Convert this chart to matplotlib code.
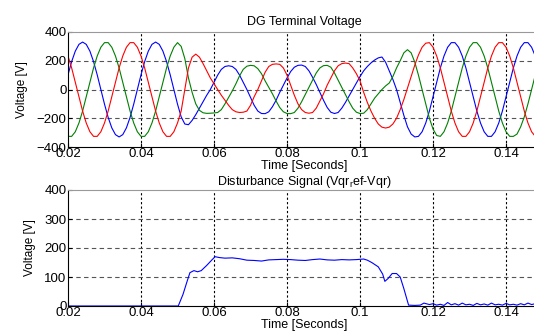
import numpy as np
import matplotlib
matplotlib.use("Agg")
from matplotlib import pyplot as plt

plt.rcParams["font.family"] = ["Liberation Sans", "DejaVu Sans"]
plt.rcParams["mathtext.fontset"] = "custom"
plt.rcParams["mathtext.rm"] = "Liberation Sans"

# sample times of the terminal voltage trace, seconds (1 ms steps)
t_volt = np.arange(20, 149) / 1000.0

v_blue = [
    102, 194, 267, 314, 330, 314, 267, 194, 102, 0,
    -102, -194, -267, -314, -330, -314, -267, -194, -102, 0,
    102, 194, 267, 314, 330, 314, 267, 194, 102, 0,
    -102, -190, -240, -245, -215, -175, -130, -85, -40, 0,
    50, 100, 140, 160, 165, 160, 140, 100, 50, 0,
    -55, -110, -150, -167, -168, -155, -120, -75, -20, 30,
    80, 125, 155, 168, 170, 160, 130, 85, 35, -20,
    -75, -125, -158, -167, -160, -130, -90, -45, 0, 45,
    90, 130, 160, 185, 205, 220, 226, 190, 130, 70,
    0, -90, -180, -260, -310, -330, -326, -294, -233, -150,
    -51, 51, 150, 233, 294, 326, 326, 294, 233, 150,
    51, -51, -150, -233, -294, -326, -326, -294, -233, -150,
    -51, 51, 150, 233, 294, 326, 326, 294, 233,
]
v_green = [
    -326, -326, -294, -233, -150, -51, 51, 150, 233, 294,
    326, 326, 294, 233, 150, 51, -51, -150, -233, -294,
    -326, -326, -294, -233, -150, -51, 51, 150, 233, 294,
    326, 300, 215, 80, -20, -100, -145, -162, -166, -165,
    -163, -160, -140, -100, -55, -10, 40, 95, 140, 162,
    168, 165, 145, 110, 60, 15, -30, -80, -125, -155,
    -167, -168, -160, -130, -85, -35, 15, 65, 115, 150,
    166, 168, 155, 115, 65, 15, -35, -85, -130, -158,
    -167, -165, -140, -100, -60, -30, 0, 25, 45, 90,
    150, 200, 255, 277, 255, 190, 100, 0, -100, -200,
    -275, -320, -326, -294, -233, -150, -51, 51, 150, 233,
    294, 326, 326, 294, 233, 150, 51, -51, -150, -233,
    -294, -326, -326, -310, -260, -190, -100, 0, 100,
]
v_red = [
    233, 150, 51, -51, -150, -233, -294, -326, -326, -294,
    -233, -150, -51, 51, 150, 233, 294, 326, 326, 294,
    233, 150, 51, -51, -150, -233, -294, -326, -326, -294,
    -233, -150, 0, 150, 225, 246, 225, 180, 130, 80,
    40, 0, -40, -75, -110, -140, -155, -160, -158, -150,
    -110, -50, 0, 60, 120, 160, 175, 178, 175, 150,
    100, 30, -40, -100, -140, -160, -165, -160, -130, -80,
    -30, 30, 80, 130, 165, 180, 184, 180, 150, 110,
    60, -20, -90, -150, -200, -240, -262, -268, -262, -240,
    -200, -140, -70, 10, 90, 170, 240, 294, 322, 326,
    294, 233, 150, 51, -51, -150, -233, -294, -326, -326,
    -294, -233, -150, -51, 51, 150, 233, 294, 326, 326,
    294, 233, 150, 51, -51, -150, -233, -294, -326,
]

# disturbance signal (Vqr_ref - Vqr)
t_dist = [
    0.020, 0.0502, 0.0515, 0.0525, 0.0534, 0.0545, 0.0555, 0.0565, 0.0580, 0.0595,
    0.0603, 0.0615, 0.063, 0.065, 0.067, 0.069, 0.071, 0.073, 0.075, 0.077,
    0.079, 0.081, 0.083, 0.085, 0.087, 0.089, 0.091, 0.093, 0.095, 0.097,
    0.099, 0.101, 0.102, 0.1032, 0.105, 0.1062, 0.1068, 0.1077, 0.1088, 0.1100,
    0.1110, 0.1120, 0.1133, 0.1150, 0.1165, 0.1175, 0.119, 0.120, 0.121, 0.122,
    0.123, 0.124, 0.125, 0.126, 0.127, 0.128, 0.129, 0.130, 0.131, 0.132,
    0.133, 0.134, 0.135, 0.136, 0.137, 0.138, 0.139, 0.140, 0.141, 0.142,
    0.143, 0.144, 0.145, 0.146, 0.147, 0.148,
]
v_dist = [
    0, 0, 40, 80, 115, 122, 118, 122, 140, 160,
    170, 167, 165, 166, 163, 158, 157, 155, 159, 160,
    161, 160, 158, 157, 160, 162, 159, 158, 160, 159,
    160, 162, 158, 150, 135, 110, 85, 95, 112, 112,
    100, 60, 3, 2, 3, 10, 5, 8, 3, 6,
    2, 12, 4, 8, 3, 10, 4, 6, 2, 9,
    4, 7, 3, 10, 4, 6, 3, 9, 4, 6,
    3, 8, 4, 10, 5, 8,
]

x_ticks = [0.02, 0.04, 0.06, 0.08, 0.1, 0.12, 0.14]
x_labels = ["0.02", "0.04", "0.06", "0.08", "0.1", "0.12", "0.14"]


def style(ax, yticks):
    ax.set_xlim(0.02, 0.1493)
    ax.set_xticks(x_ticks)
    ax.set_xticklabels(x_labels)
    ax.set_yticks(yticks)
    ax.tick_params(direction="in", length=3, labelsize=9.5, pad=1)
    ax.tick_params(axis="x", pad=1)
    for x in x_ticks[1:]:
        ax.axvline(x, color="black", lw=0.8, ls=(0, (2, 2)), zorder=0)
    for y in yticks[1:-1]:
        ax.axhline(y, color="#555555", lw=0.8, ls=(0, (4, 3)), zorder=0)
    ax.spines["right"].set_visible(False)
    ax.spines["top"].set_color("#999999")
    ax.set_xlabel("Time [Seconds]", fontsize=9, labelpad=0)
    ax.set_ylabel("Voltage [V]", fontsize=8.5, labelpad=6)


fig = plt.figure(figsize=(5.34, 3.34), dpi=100)
ax1 = fig.add_axes([68 / 534, 1 - 147 / 334, 472 / 534, 115 / 334])
ax2 = fig.add_axes([68 / 534, 1 - 306 / 334, 472 / 534, 116 / 334])

ax1.plot(t_volt, v_blue, color="blue", lw=0.8)
ax1.plot(t_volt, v_green, color="#008000", lw=0.8)
ax1.plot(t_volt, v_red, color="red", lw=0.8)
ax1.set_ylim(-400, 400)
style(ax1, [-400, -200, 0, 200, 400])
ax1.set_title("DG Terminal Voltage", fontsize=9, pad=5)

ax2.plot(t_dist, v_dist, color="blue", lw=0.8)
ax2.set_ylim(0, 400)
style(ax2, [0, 100, 200, 300, 400])
ax2.set_title("Disturbance Signal (Vqr$_\\mathrm{r}$ef-Vqr)", fontsize=9, pad=2)

fig.savefig("out.png", dpi=100)
